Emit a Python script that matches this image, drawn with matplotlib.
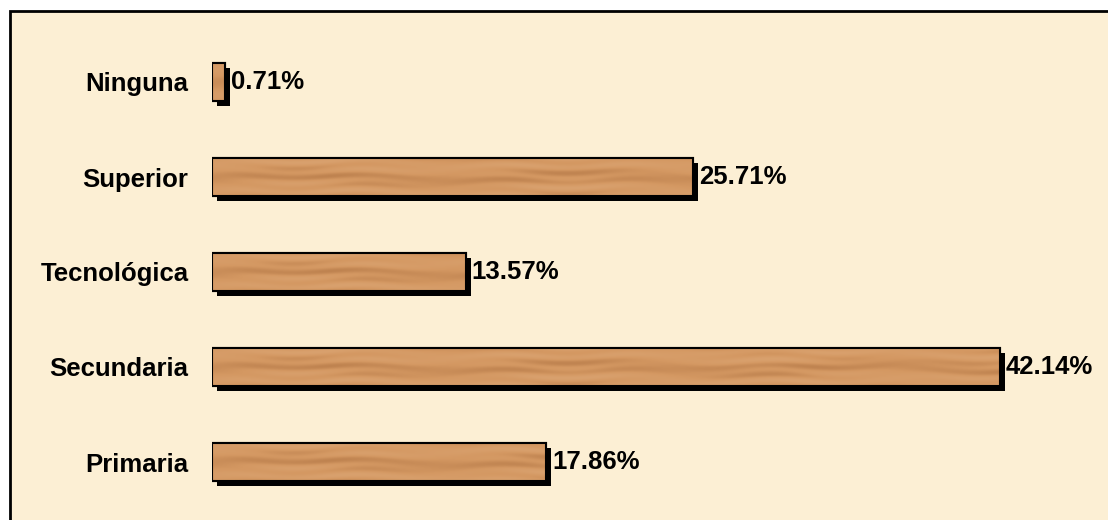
import matplotlib
matplotlib.use("Agg")
import numpy as np
import matplotlib.pyplot as plt
import matplotlib.transforms as mtransforms
from matplotlib.colors import LinearSegmentedColormap
from matplotlib.patches import Rectangle

# Education level shares (bottom to top as drawn)
categories = ["Primaria", "Secundaria", "Tecnológica", "Superior", "Ninguna"]
values = [17.86, 42.14, 13.57, 25.71, 0.71]
value_labels = ["17.86%", "42.14%", "13.57%", "25.71%", "0.71%"]

W, H = 1108, 520
fig = plt.figure(figsize=(W / 100, H / 100), dpi=100)
fig.patch.set_facecolor("white")

# cream chart area with black frame (cut by the right/bottom image edges)
fig.patches.append(Rectangle((10 / W, -0.05), (W + 20) / W, (H - 11) / H + 0.05,
                             transform=fig.transFigure, facecolor="#fcefd4",
                             edgecolor="black", linewidth=2, zorder=-5))

# axes spanning from the bar baseline to the right edge
left_px = 212
px_per_unit = 18.7
ax = fig.add_axes([left_px / W, 0, 1 - left_px / W, 1])
ax.set_facecolor("none")
ax.set_zorder(1)
xmax = (W - left_px) / px_per_unit
step = 95.0
y0 = 462.0

pos = list(range(len(categories)))
bar_h = 0.4

# drop shadow
shadow = mtransforms.offset_copy(ax.transData, fig=fig, x=5, y=-5, units="dots")
ax.barh(pos, values, height=bar_h, color="black", transform=shadow, zorder=2)
bars = ax.barh(pos, values, height=bar_h, color="#d49a66", edgecolor="black",
               linewidth=1.5, zorder=3)

# wood-grain look: soft streaky texture clipped to each bar
wood = LinearSegmentedColormap.from_list("wood", ["#bf8350", "#d49862", "#d9a16e"])
gx = np.linspace(0, 1, 400)
gy = np.linspace(0, 1, 40)
X, Y = np.meshgrid(gx, gy)
grain = (0.6 + 0.2 * np.sin(Y * 9 + 0.8 * np.sin(X * 17))
         + 0.2 * np.sin(Y * 23 + 1.2 * np.sin(X * 37 + 1)) * np.sin(X * 11))
for rect in bars:
    x0, yb = rect.get_x(), rect.get_y()
    im = ax.imshow(grain, cmap=wood, aspect="auto", interpolation="bilinear",
                   extent=(x0, x0 + xmax * 0.9, yb, yb + bar_h), zorder=3.5)
    im.set_clip_path(rect)
    edge = Rectangle((x0, yb), rect.get_width(), bar_h, fill=False,
                     edgecolor="black", linewidth=1.5, zorder=3.6)
    ax.add_patch(edge)

for rect, lab in zip(bars, value_labels):
    ax.annotate(lab, (rect.get_width(), rect.get_y() + rect.get_height() / 2),
                xytext=(6, 0), textcoords="offset pixels", va="center", ha="left",
                fontsize=18.5, fontweight="bold", family="Liberation Sans", zorder=4)

ax.set_yticks(pos)
ax.set_yticklabels(categories, fontsize=18.5, fontweight="bold", family="Liberation Sans")
ax.tick_params(axis="y", length=0, pad=17)
ax.set_xticks([])
ax.set_xlim(0, xmax)
ax.set_ylim((y0 - H) / step, y0 / step)
for s in ax.spines.values():
    s.set_visible(False)

fig.savefig("out.png", dpi=100)
